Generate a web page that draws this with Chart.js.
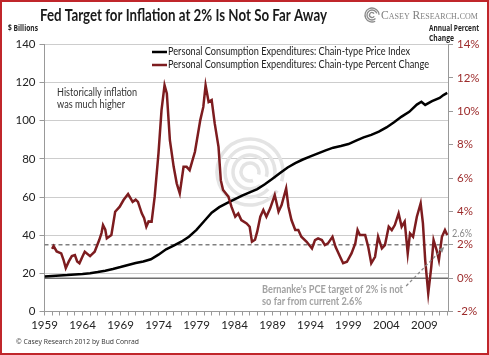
<!DOCTYPE html>
<html>
<head>
<meta charset="utf-8">
<script src="https://cdn.jsdelivr.net/npm/chart.js@4.4.1/dist/chart.umd.min.js"></script>
<style>
html,body{margin:0;padding:0;background:#fff;}
#wrap{width:489px;height:355px;position:relative;}
</style>
</head>
<body>
<div id="wrap"><canvas id="c" width="489" height="355"></canvas></div>
<script>
// ---- data ----
const pceYears = [1959,1960,1961,1962,1963,1964,1965,1966,1967,1968,1969,1970,1971,1972,1973,1974,1975,1976,1977,1978,1979,1980,1981,1982,1983,1984,1985,1986,1987,1988,1989,1990,1991,1992,1993,1994,1995,1996,1997,1998,1999,2000,2001,2002,2003,2004,2005,2006,2007,2008,2008.6,2009.1,2010,2011,2011.5,2012];
const pceIndex = [18.3,18.6,18.9,19.1,19.4,19.7,20.1,20.7,21.4,22.3,23.3,24.4,25.4,26.2,27.4,29.8,32.6,34.5,36.6,39.2,42.8,47.3,51.8,54.7,56.8,58.8,60.8,62.5,64.2,66.7,69.6,72.6,75.5,77.8,79.7,81.3,82.9,84.5,85.9,86.8,87.8,89.6,91.3,92.6,94.3,96.5,99.2,102.2,104.7,108.5,110.0,108.3,110.3,112.0,113.5,114.6];

const pctYears = [1960.0,1960.2,1960.6,1961.2,1961.5,1961.8,1962.2,1962.6,1963.0,1963.3,1963.6,1964.0,1964.3,1965.0,1965.3,1965.6,1966.2,1966.5,1966.7,1967.0,1967.2,1967.8,1968.3,1968.9,1969.4,1970.0,1970.6,1971.0,1971.3,1971.8,1972.1,1972.4,1972.7,1973.1,1973.5,1974.0,1974.4,1974.8,1975.1,1975.5,1976.0,1976.4,1976.8,1977.3,1977.7,1978.1,1978.8,1979.5,1979.9,1980.2,1980.6,1981.0,1981.4,1981.9,1982.2,1982.5,1983.2,1983.6,1984.1,1984.5,1984.9,1985.6,1986.0,1986.3,1986.7,1987.0,1987.4,1987.8,1988.2,1988.7,1989.3,1989.8,1990.2,1990.8,1991.1,1991.5,1992.0,1992.4,1992.8,1993.5,1994.2,1994.6,1995.0,1995.5,1995.9,1996.3,1996.9,1997.3,1997.9,1998.3,1998.8,1999.4,1999.9,2000.2,2000.5,2001.2,2001.6,2002.0,2002.5,2002.9,2003.4,2003.8,2004.3,2004.7,2005.1,2005.6,2006.0,2006.4,2006.8,2007.1,2007.5,2008.0,2008.5,2008.8,2009.1,2009.5,2009.9,2010.2,2010.6,2010.9,2011.3,2011.7,2012.0];
const pctChange = [1.75,1.92,1.60,1.48,1.10,0.60,1.00,1.32,1.38,1.00,0.89,1.30,1.58,1.32,1.45,1.58,2.28,2.70,3.18,2.90,2.38,2.58,3.98,4.28,4.68,5.04,4.57,4.70,4.57,3.88,3.60,3.08,3.40,3.38,4.88,7.47,10.07,11.56,11.07,8.27,6.67,5.68,5.08,6.67,6.67,6.47,7.57,9.47,10.26,11.56,10.56,10.67,9.27,7.87,5.87,5.28,4.88,4.28,3.68,3.88,3.48,3.28,3.08,2.18,2.30,2.80,3.68,4.08,3.68,4.18,4.98,3.98,4.38,5.38,4.28,3.48,2.88,2.88,2.48,2.18,1.78,2.28,2.38,2.28,1.98,2.08,2.48,1.88,1.28,0.89,0.98,1.48,2.08,2.88,2.58,2.58,1.88,0.89,1.28,2.48,1.78,1.98,3.08,2.88,3.18,3.88,3.08,3.38,1.48,2.68,2.48,3.68,4.48,3.28,1.08,-0.91,0.68,2.28,1.68,1.08,2.48,2.88,2.58];

const xLabelYears = [1959,1964,1969,1974,1979,1984,1989,1994,1999,2004,2009];
const leftTicks = [0,20,40,60,80,100,120,140];
const rightTicks = [-2,0,2,4,6,8,10,12,14];
const targetPct = 2;
const zeroPct = 0;
const currentLabel = '2.6%';

const seriesNames = ['Personal Consumption Expenditures: Chain-type Price Index','Personal Consumption Expenditures: Chain-type Percent Change'];

const RED = '#7d1c1f';
const TICKRED = '#9c2a2a';

const decor = {
  id:'decor',
  beforeDraw(chart){
    const ctx = chart.ctx;
    ctx.save();
    ctx.fillStyle = '#fff';
    ctx.fillRect(0,0,chart.width,chart.height);
    ctx.restore();
  },
  beforeDatasetsDraw(chart){
    const ctx = chart.ctx, ca = chart.chartArea, y1 = chart.scales.y1;
    ctx.save();
    // watermark swirl
    ctx.strokeStyle = '#e4e4e4';
    ctx.lineWidth = 3.5;
    const cx = 250, cy = 172;
    [[9,0.2,1.7],[17,0.1,1.8],[25,0.05,1.85],[33,0.0,1.9]].forEach(([r,a0,a1])=>{
      ctx.beginPath();
      ctx.arc(cx,cy,r,Math.PI*a0+0.6,Math.PI*(a0+a1)+0.6);
      ctx.stroke();
    });
    // 0% solid line
    const yz = y1.getPixelForValue(zeroPct);
    ctx.strokeStyle = '#707070';
    ctx.lineWidth = 1.5;
    ctx.beginPath(); ctx.moveTo(ca.left,yz); ctx.lineTo(ca.right,yz); ctx.stroke();
    // 2% dashed line
    const yt = y1.getPixelForValue(targetPct);
    ctx.strokeStyle = '#808080';
    ctx.lineWidth = 1.5;
    ctx.setLineDash([4,3]);
    ctx.beginPath(); ctx.moveTo(ca.left,yt); ctx.lineTo(ca.right,yt); ctx.stroke();
    ctx.restore();
  },
  afterDraw(chart){
    const ctx = chart.ctx, x = chart.scales.x, y1 = chart.scales.y1;
    ctx.save();
    ctx.textBaseline = 'middle';
    // title
    ctx.fillStyle = '#1a1a1a';
    ctx.font = 'bold 17px Lato, "Open Sans", sans-serif';
    ctx.textAlign = 'left';
    ctx.fillText('Fed Target for Inflation at 2% Is Not So Far Away', 40, 16, 287);
    // logo
    ctx.strokeStyle = '#8a8a8a'; ctx.lineWidth = 1.3;
    [2.5,5,7].forEach((r,i)=>{ctx.beginPath();ctx.arc(372,15,r,0.5+i*0.3,Math.PI*1.8+i*0.3);ctx.stroke();});
    ctx.fillStyle = '#7f7f7f';
    ctx.font = 'small-caps 13px "Liberation Serif", serif';
    ctx.fillText('Casey Research.com', 381, 15.5, 97);
    // axis titles
    ctx.fillStyle = '#222';
    ctx.font = 'bold 8px "Open Sans", sans-serif';
    ctx.fillText('$ Billions', 8, 29, 30);
    ctx.fillText('Annual Percent', 429, 29, 50);
    ctx.fillText('Change', 429, 38.5, 25);
    // legend
    const lg = [[52,'#000',seriesNames[0],242],[65,RED,seriesNames[1],261]];
    ctx.font = '10.5px Lato, "Open Sans", sans-serif';
    lg.forEach(([yy,col,txt,w])=>{
      ctx.strokeStyle = col; ctx.lineWidth = 2.5;
      ctx.beginPath(); ctx.moveTo(152,yy); ctx.lineTo(167,yy); ctx.stroke();
      ctx.fillStyle = '#222';
      ctx.fillText(txt, 168, yy, w);
    });
    // annotation left
    ctx.fillStyle = '#333';
    ctx.font = '11px Lato, "Open Sans", sans-serif';
    ctx.fillText('Historically inflation', 57, 92, 80);
    ctx.fillText('was much higher', 57, 104, 68);
    // bernanke note
    ctx.fillStyle = '#a2a2a2';
    ctx.font = 'bold 10.5px Lato, "Open Sans", sans-serif';
    ctx.fillText("Bernanke's PCE target of 2% is not", 262, 289.5, 141);
    ctx.fillText('so far from current 2.6%', 262, 301.5, 100);
    // dashed arrow
    const ax0 = x.getPixelForValue(2006.6), ay0 = y1.getPixelForValue(-0.47);
    const ax1 = x.getPixelForValue(2011.6), ay1 = y1.getPixelForValue(1.86);
    ctx.strokeStyle = '#8a8a8a'; ctx.lineWidth = 1.3; ctx.setLineDash([3,2.5]);
    ctx.beginPath(); ctx.moveTo(ax0,ay0); ctx.lineTo(ax1,ay1); ctx.stroke();
    ctx.setLineDash([]);
    const ang = Math.atan2(ay1-ay0, ax1-ax0);
    ctx.fillStyle = '#8a8a8a';
    ctx.beginPath();
    ctx.moveTo(ax1,ay1);
    ctx.lineTo(ax1-6*Math.cos(ang-0.45), ay1-6*Math.sin(ang-0.45));
    ctx.lineTo(ax1-6*Math.cos(ang+0.45), ay1-6*Math.sin(ang+0.45));
    ctx.closePath(); ctx.fill();
    // 2.6% label
    ctx.fillStyle = '#888';
    ctx.font = '11px Lato, "Open Sans", sans-serif';
    ctx.fillText(currentLabel, 452, 233, 20);
    // footer
    ctx.fillStyle = '#333';
    ctx.font = '8px "Open Sans", sans-serif';
    ctx.fillText('\u00A9 Casey Research 2012 by Bud Conrad', 16, 342, 123);
    // border
    ctx.strokeStyle = '#c0262b'; ctx.lineWidth = 2;
    ctx.strokeRect(1,1,487,353);
    ctx.restore();
  }
};

new Chart(document.getElementById('c'), {
  type:'line',
  data:{
    datasets:[
      {label:seriesNames[0], data:pceYears.map((v,i)=>({x:v,y:pceIndex[i]})), yAxisID:'y', borderColor:'#000', borderWidth:2.5, pointRadius:0, tension:0, order:2},
      {label:seriesNames[1], data:pctYears.map((v,i)=>({x:v,y:pctChange[i]})), yAxisID:'y1', borderColor:RED, borderWidth:2.5, pointRadius:0, tension:0, order:1}
    ]
  },
  options:{
    responsive:false, animation:false, devicePixelRatio:1,
    layout:{padding:{top:44.5,left:0,right:0,bottom:0}},
    plugins:{legend:{display:false}, title:{display:false}, tooltip:{enabled:false}},
    scales:{
      x:{type:'linear', min:1959, max:2012.1,
        afterBuildTicks(s){ const t=[]; for(let v=1959; v<=2012; v++) t.push({value:v}); s.ticks=t; },
        afterFit(s){ s.height = 43.5; },
        ticks:{autoSkip:false, maxRotation:0, padding:3, color:'#222', font:{family:'Lato, "Open Sans", sans-serif', size:11.5},
          callback:(v)=> xLabelYears.includes(v) ? String(v) : ''},
        grid:{drawOnChartArea:false, drawTicks:true, tickLength:4, color:'#999'},
        border:{color:'#999', width:1}
      },
      y:{position:'left', min:0, max:140,
        afterBuildTicks(s){ s.ticks = leftTicks.map(v=>({value:v})); },
        afterFit(s){ s.width = 44.5; },
        ticks:{padding:4, color:'#222', font:{family:'Lato, "Open Sans", sans-serif', size:11.5}},
        grid:{color:'#cdcdcd', lineWidth:1, tickLength:5, tickColor:'#999'},
        border:{color:'#999', width:1}
      },
      y1:{position:'right', min:-2, max:14,
        afterBuildTicks(s){ s.ticks = rightTicks.map(v=>({value:v})); },
        afterFit(s){ s.width = 41; },
        ticks:{padding:4, color:TICKRED, font:{family:'Lato, "Open Sans", sans-serif', size:11.5}, callback:(v)=>v+'%'},
        grid:{drawOnChartArea:false, tickLength:5, color:'#999'},
        border:{color:'#999', width:1}
      }
    }
  },
  plugins:[decor]
});
</script>
</body>
</html>
